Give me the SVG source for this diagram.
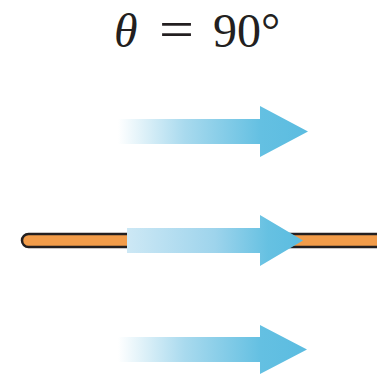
<svg xmlns="http://www.w3.org/2000/svg" width="377" height="376" viewBox="0 0 377 376">
  <defs>
    <linearGradient id="fade" x1="118" y1="0" x2="308" y2="0" gradientUnits="userSpaceOnUse">
      <stop offset="0" stop-color="#ffffff"/>
      <stop offset="0.35" stop-color="#a9daee"/>
      <stop offset="0.75" stop-color="#64c0e2"/>
      <stop offset="1" stop-color="#5bbce0"/>
    </linearGradient>
    <linearGradient id="solid" x1="127" y1="0" x2="303" y2="0" gradientUnits="userSpaceOnUse">
      <stop offset="0" stop-color="#cde8f5"/>
      <stop offset="0.5" stop-color="#9ed4ec"/>
      <stop offset="0.8" stop-color="#66c1e2"/>
      <stop offset="1" stop-color="#5bbce0"/>
    </linearGradient>
    <style>
      .title { font-family: "Liberation Serif", "Times New Roman", serif; font-size: 48px; fill: #231f20; }
      .rod { fill: #f29c4a; stroke: #231f20; stroke-width: 2.5; }
    </style>
  </defs>
  <rect width="377" height="376" fill="#ffffff"/>

  <g id="title">
    <text class="title" x="114" y="46.5" font-style="italic">θ</text>
    <text class="title" x="159" y="46.5" style="font-size:52px" textLength="35" lengthAdjust="spacingAndGlyphs">=</text>
    <text class="title" x="213" y="46.5">90°</text>
  </g>

  <g id="rod">
    <rect class="rod" x="22" y="234" width="370" height="13" rx="6.5"/>
  </g>

  <g id="arrows">
    <polygon id="arrow-top" fill="url(#fade)" points="118,119 260,119 260,106 308,131.5 260,157 260,144 118,144"/>
    <polygon id="arrow-middle" fill="url(#solid)" points="127,228 260,228 260,215 303,240.5 260,266 260,253 127,253"/>
    <polygon id="arrow-bottom" fill="url(#fade)" points="118,337 260,337 260,325 307,349.5 260,374 260,362 118,362"/>
  </g>
</svg>
